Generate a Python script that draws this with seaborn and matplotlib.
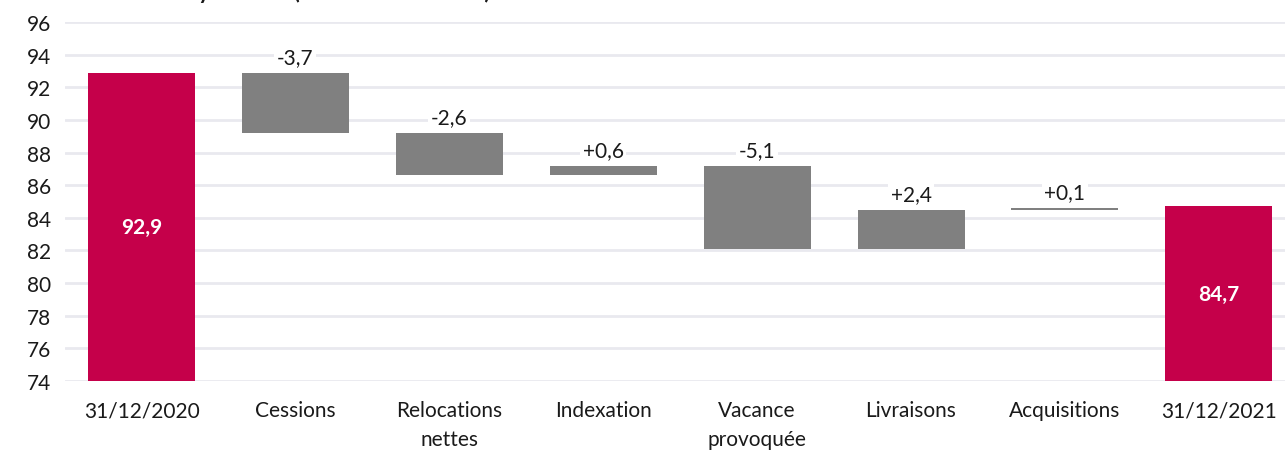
import numpy as np
import pandas as pd
import matplotlib
matplotlib.use("Agg")
import matplotlib.pyplot as plt
import seaborn as sns

# données (millions d'euros)
categories = ["31/12/2020", "Cessions", "Relocations\nnettes", "Indexation",
              "Vacance\nprovoquée", "Livraisons", "Acquisitions", "31/12/2021"]
start_total = 92.9
end_total = 84.7
deltas = [-3.7, -2.6, 0.6, -5.1, 2.4, 0.1]
delta_labels = ["-3,7", "-2,6", "+0,6", "-5,1", "+2,4", "+0,1"]
total_labels = ["92,9", "84,7"]
y_ticks = list(range(74, 97, 2))

CRIMSON = "#C5004A"
GREY = "#808080"
GRID = "#E9E9EF"
Y_MIN = 74

# construction des barres flottantes
levels = np.concatenate([[start_total], start_total + np.cumsum(deltas)])
bottoms = [Y_MIN]
heights = [start_total - Y_MIN]
for i, d in enumerate(deltas):
    lo = min(levels[i], levels[i + 1])
    bottoms.append(lo)
    heights.append(abs(d))
bottoms.append(Y_MIN)
heights.append(end_total - Y_MIN)

df = pd.DataFrame({"cat": categories, "bottom": bottoms, "height": heights})

sns.set_style("white")
plt.rcParams["font.family"] = ["Lato", "DejaVu Sans"]

fig = plt.figure(figsize=(12.85, 4.52), dpi=100)
ax = fig.add_axes([64.6 / 1285, 70 / 452, 1 - 64.6 / 1285, (382 - 23) / 452])

sns.barplot(data=df, x="cat", y="height", order=categories, bottom=df["bottom"].values,
            color=GREY, width=0.695, saturation=1, ax=ax, zorder=2)

for i, p in enumerate(ax.patches):
    p.set_edgecolor("none")
    if i in (0, len(categories) - 1):
        p.set_facecolor(CRIMSON)

# étiquettes
for i, lab in enumerate(delta_labels):
    top = max(levels[i], levels[i + 1])
    ax.text(i + 1, top + 0.95, lab, ha="center", va="center", fontsize=15, color="#1a1a1a",
            bbox=dict(facecolor="white", edgecolor="none", pad=2), zorder=3)
ax.text(0, (Y_MIN + start_total) / 2, total_labels[0], ha="center", va="center",
        fontsize=15, color="white", fontweight="bold", zorder=3)
ax.text(len(categories) - 1, (Y_MIN + end_total) / 2, total_labels[1], ha="center",
        va="center", fontsize=15, color="white", fontweight="bold", zorder=3)

ax.set_ylim(Y_MIN, 96)
ax.set_xlim(-0.5, 7.43)
ax.set_yticks(y_ticks)
ax.yaxis.grid(True, color=GRID, linewidth=2, zorder=0)
ax.set_axisbelow(True)
for s in ax.spines.values():
    s.set_visible(False)
ax.tick_params(axis="both", length=0, labelsize=15, colors="#1a1a1a")
ax.tick_params(axis="x", pad=14)
ax.tick_params(axis="y", pad=10)
for t in ax.get_xticklabels():
    t.set_linespacing(1.55)
ax.set_xlabel("")
ax.set_ylabel("")

fig.text(40 / 1285, 1.0 + 10 / 452, "Évolution des loyers nets (en millions d'euros)",
         fontsize=16, fontweight="bold", va="center", ha="left", color="#1a1a1a")

fig.savefig("out.png", dpi=100)
